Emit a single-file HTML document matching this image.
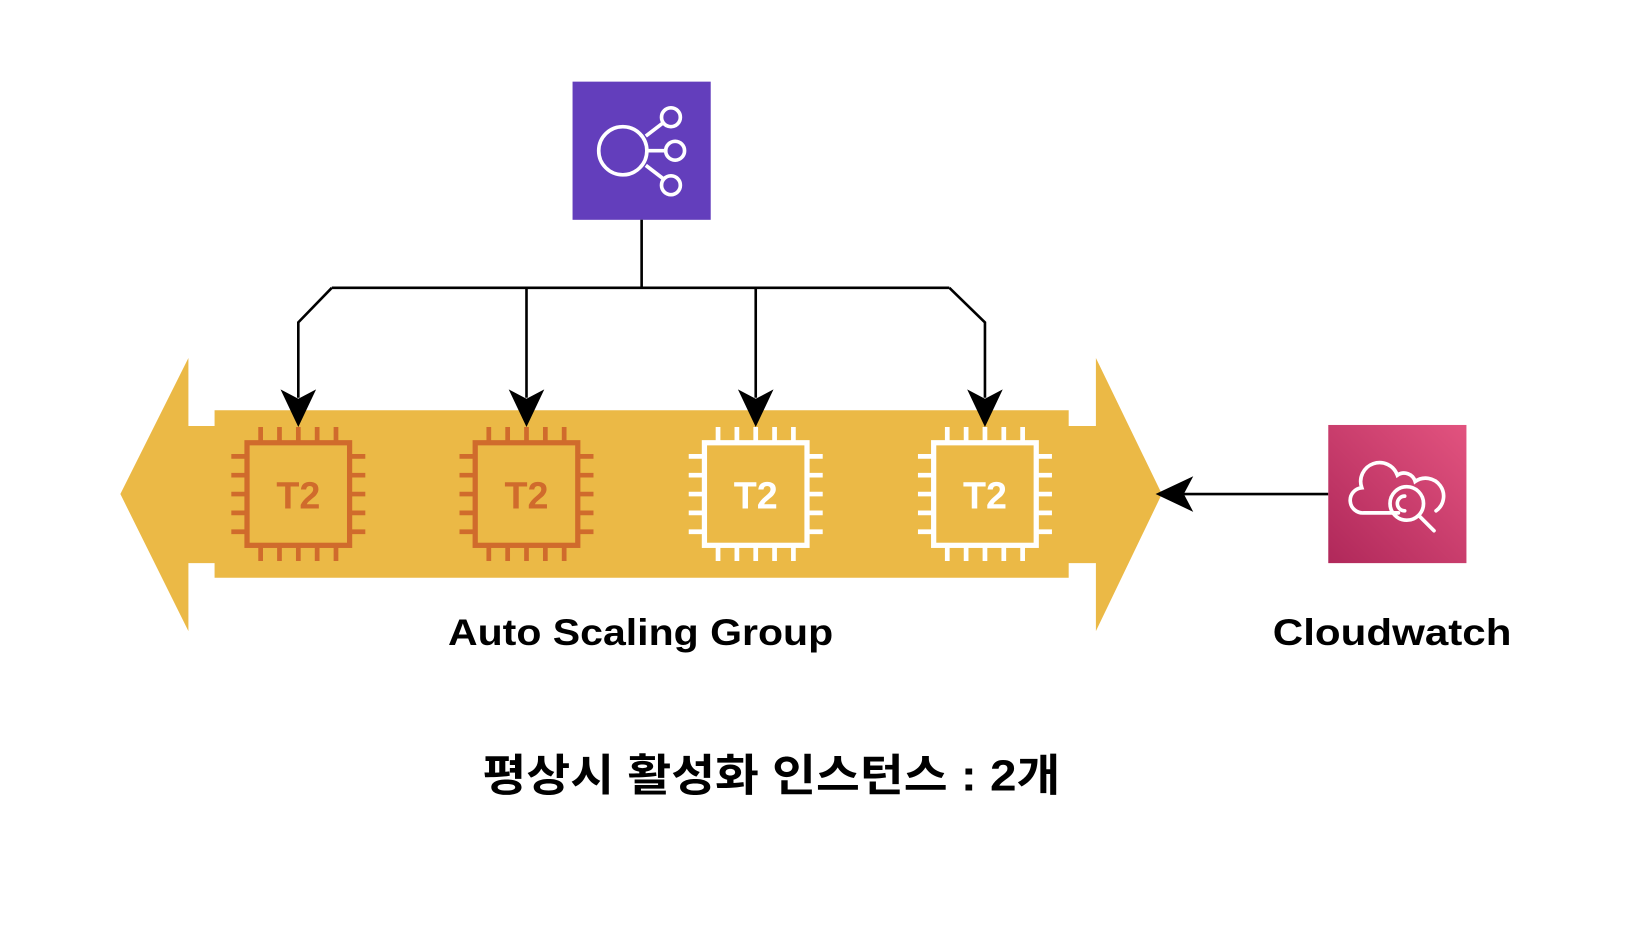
<!DOCTYPE html>
<html><head><meta charset="utf-8"><style>html,body{margin:0;padding:0;background:#fff;overflow:hidden}</style></head>
<body>
<svg width="1642" height="930" viewBox="0 0 1568.6 888.5" preserveAspectRatio="xMinYMin meet" xmlns="http://www.w3.org/2000/svg">
<defs>
<linearGradient id="pk" x1="0" y1="1" x2="1" y2="0"><stop offset="0" stop-color="#B0285A"/><stop offset="1" stop-color="#E2537F"/></linearGradient>
<g id="chip">
<rect x="-49" y="-49" width="98" height="98" fill="none" stroke-width="5"/>
<g stroke-width="4.5">
<path d="M-36,-51V-64M-18,-51V-64M0,-51V-64M18,-51V-64M36,-51V-64"/>
<path d="M-36,51V64M-18,51V64M0,51V64M18,51V64M36,51V64"/>
<path d="M-51,-36H-64M-51,-18H-64M-51,0H-64M-51,18H-64M-51,36H-64"/>
<path d="M51,-36H64M51,-18H64M51,0H64M51,18H64M51,36H64"/>
</g>
</g>
</defs>
<rect x="547" y="78" width="132" height="132" fill="#633EBC"/>
<g fill="none" stroke="#fff" stroke-width="3.5">
<circle cx="595" cy="144" r="23"/>
<circle cx="641" cy="112" r="9"/><circle cx="645" cy="144" r="9"/><circle cx="641" cy="177" r="9"/>
<path d="M617,130L634,117M618,144H636M617,158L634,171"/>
</g>
<g fill="none" stroke="#000" stroke-width="2.5">
<path d="M613,210V275M317,275H907M317,275L285,308V380M907,275L941,308V380M503,275V380M722,275V380"/>
<path d="M1269,472H1130"/>
</g>
<polygon fill="#EBB946" points="115,472 180,342 180,407 205,407 205,392 1021,392 1021,407 1047,407 1047,342 1110,472 1047,603 1047,538 1021,538 1021,552 205,552 205,538 180,538 180,603"/>
<g fill="#000">
<path d="M285,408L268,372L285,381L302,372Z"/>
<path d="M503,408L486,372L503,381L520,372Z"/>
<path d="M722,408L705,372L722,381L739,372Z"/>
<path d="M941,408L924,372L941,381L958,372Z"/>
<path d="M1104,472L1140,455L1131,472L1140,489Z"/>
</g>
<use href="#chip" x="285" y="472" stroke="#D06B2C"/>
<use href="#chip" x="503" y="472" stroke="#D06B2C"/>
<use href="#chip" x="722" y="472" stroke="#fff"/>
<use href="#chip" x="941" y="472" stroke="#fff"/>
<g font-family="Liberation Sans, sans-serif" font-weight="bold" font-size="36" text-anchor="middle">
<text x="285" y="486" fill="#D06B2C">T2</text>
<text x="503" y="486" fill="#D06B2C">T2</text>
<text x="722" y="486" fill="#fff">T2</text>
<text x="941" y="486" fill="#fff">T2</text>
</g>
<rect x="1269" y="406" width="132" height="132" fill="url(#pk)"/>
<g fill="none" stroke="#fff" stroke-width="3.5" stroke-linecap="round">
<path d="M1336,490H1303a12,12 0 0 1 -2,-24a18,18 0 0 1 34,-12a11,11 0 0 1 17,6a15,15 0 0 1 20,28"/>
<circle cx="1344" cy="481" r="16"/>
<path d="M1342,474a7,7 0 0 0 0,14"/>
<path d="M1356,493L1370,507"/>
</g>
<g font-family="Liberation Sans, sans-serif" font-weight="bold" font-size="35" text-anchor="middle" fill="#000">
<text x="612" y="616" textLength="368" lengthAdjust="spacingAndGlyphs">Auto Scaling Group</text>
<text x="1330" y="616" textLength="228" lengthAdjust="spacingAndGlyphs">Cloudwatch</text>
</g>
<text x="737" y="755" text-anchor="middle" font-family="Liberation Sans, 'Noto Sans CJK KR', sans-serif" font-weight="bold" font-size="42" textLength="552" lengthAdjust="spacingAndGlyphs">평상시 활성화 인스턴스 : 2개</text>
</svg>
</body></html>
